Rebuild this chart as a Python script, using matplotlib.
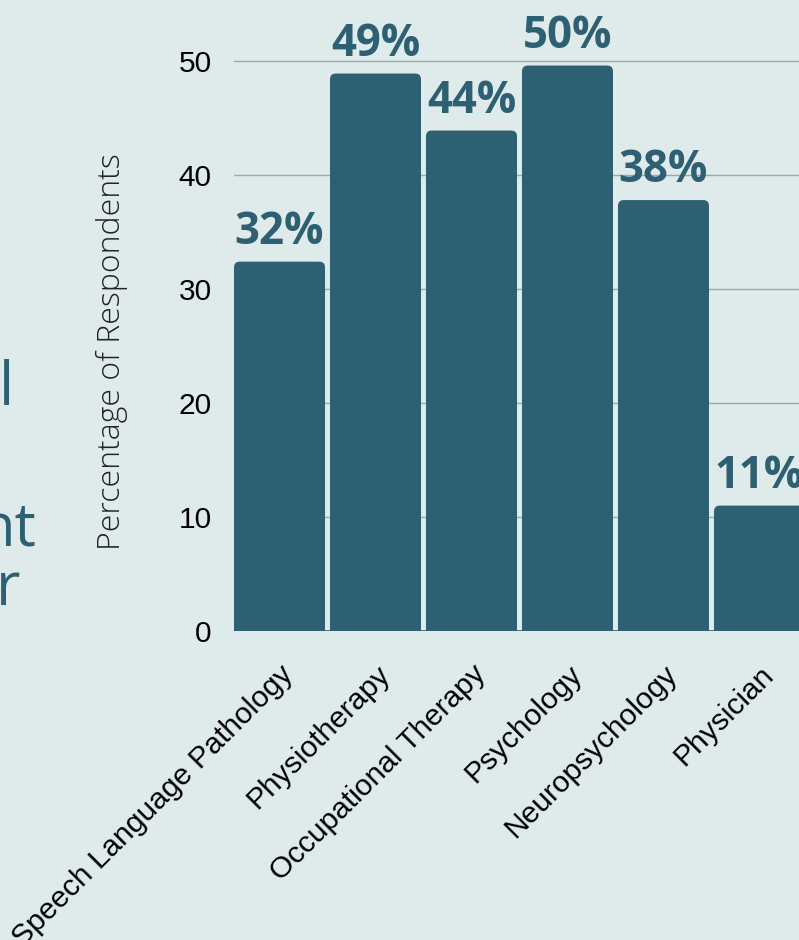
import matplotlib.pyplot as plt
from matplotlib.patches import FancyBboxPatch

# data
categories = ['Speech Language Pathology', 'Physiotherapy', 'Occupational Therapy',
              'Psychology', 'Neuropsychology', 'Physician']
values = [32.4, 48.9, 43.9, 49.6, 37.8, 11.0]
labels = ['32%', '49%', '44%', '50%', '38%', '11%']
yticks = [0, 10, 20, 30, 40, 50]

BG = '#dfeaea'
TEAL = '#2e6073'
W, H = 799, 940

fig = plt.figure(figsize=(W / 100, H / 100), dpi=100, facecolor=BG)
# axes runs a bit past the right edge, the reference is cropped there
ax = fig.add_axes([234 / W, (H - 631) / H, 571 / W, 627 / H])
ax.set_facecolor(BG)

bw = 0.948
xs = list(range(len(categories)))
ax.set_xlim(-bw / 2, len(categories) - 1 + bw / 2)
ax.set_ylim(0, 55)

# rounded top corners (bottom part hangs below 0 and is clipped)
for x, v, lab in zip(xs, values, labels):
    p = FancyBboxPatch((x - bw / 2, -2), bw, v + 2,
                       boxstyle='round,pad=0,rounding_size=0.06',
                       mutation_aspect=8.4, fc=TEAL, ec='none', zorder=3)
    ax.add_patch(p)
    ax.text(x, v + 0.6, lab, ha='center', va='bottom',
            fontsize=31.5, fontweight='bold', family='Open Sans', color=TEAL, zorder=4)

ax.set_yticks(yticks)
ax.set_yticklabels([str(t) for t in yticks], fontsize=21.5, family='Liberation Sans', color='black')
ax.yaxis.grid(True, color='#9aa8a8', lw=1)
ax.set_axisbelow(True)
ax.axhline(0, color='#555555', lw=1.2, zorder=2)
ax.tick_params(axis='y', length=0, pad=16)
ax.tick_params(axis='x', length=0, pad=21)
ax.set_xticks(xs)
ax.set_xticklabels(categories, rotation=45, ha='right', va='top', rotation_mode='anchor',
                   fontsize=21.5, family='Liberation Sans', color='black')
for s in ax.spines.values():
    s.set_visible(False)

fig.text(112 / W, (H - 352) / H, 'Percentage of Respondents', rotation=90,
         ha='center', va='center', fontsize=23, family='Open Sans', fontweight='light',
         color='#222222')

# cut-off title text on the left
for txt, xr, yb in [('l', 14, 405), ('nt', 37, 545), ('r', 20, 605)]:
    fig.text(xr / W, (H - yb) / H, txt, ha='right', va='baseline', fontsize=43,
             family='Open Sans', color=TEAL)

fig.savefig('out.png', dpi=100, facecolor=BG)
